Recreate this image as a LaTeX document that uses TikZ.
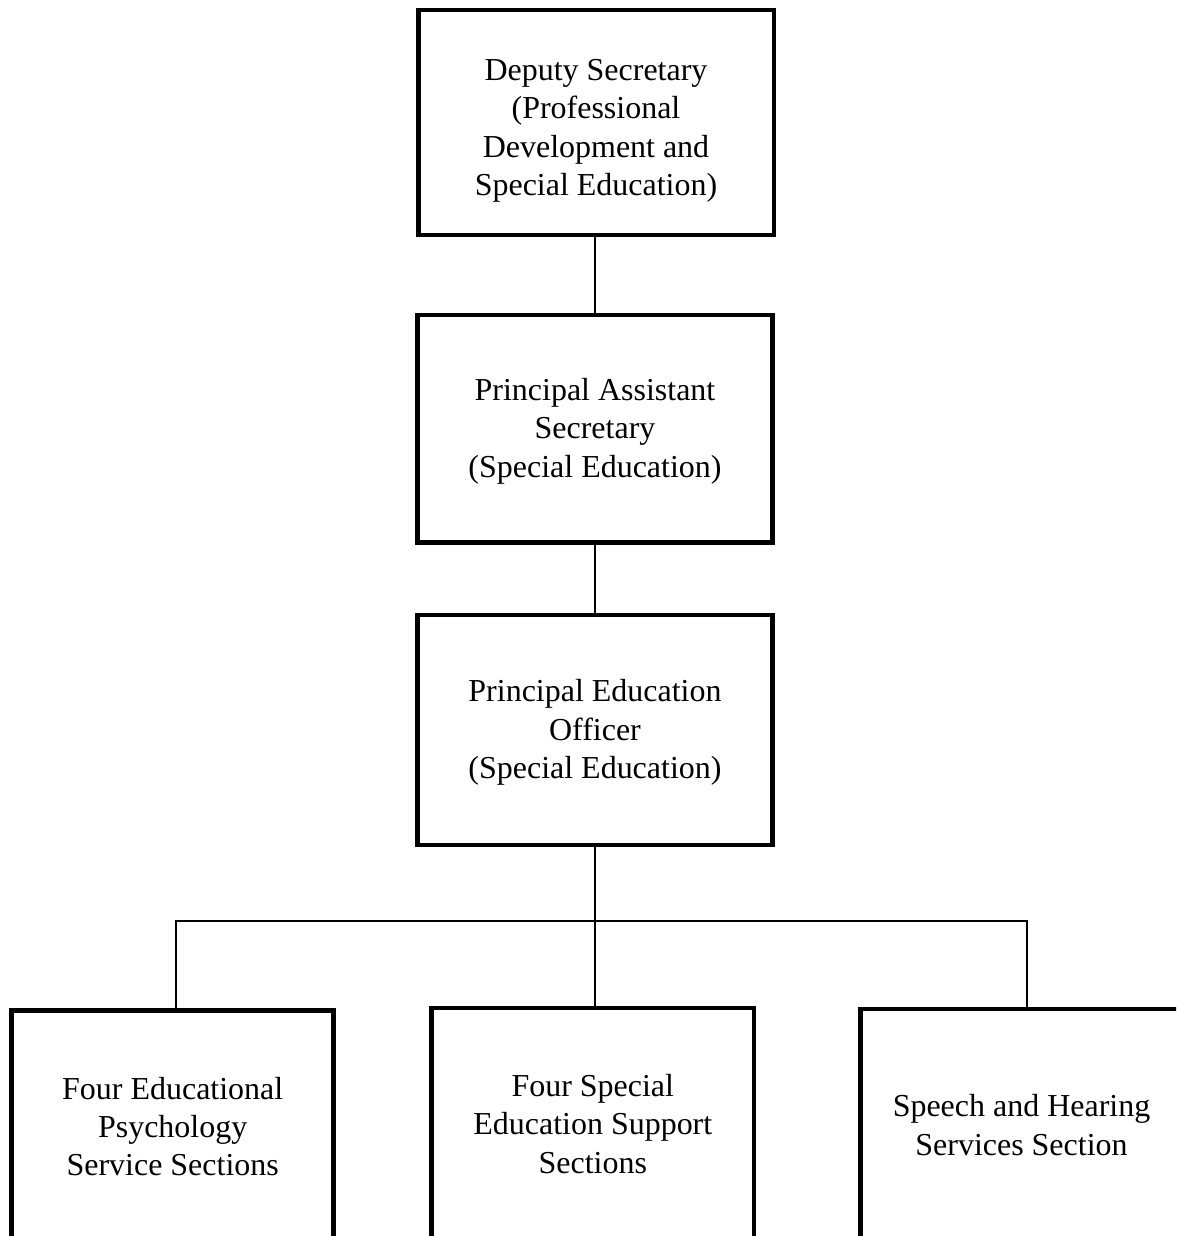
\documentclass[tikz,border=0pt]{standalone}
\usepackage{fontspec}
\setmainfont{Liberation Serif}
\usepackage{tikz}

\begin{document}
\begin{tikzpicture}[x=0.02cm,y=-0.02cm,
  post/.style={draw,line width=2.8pt,align=center,inner sep=0pt,
    font=\fontsize{18.2}{21.8}\selectfont},
  link/.style={line width=1.1pt}]
\useasboundingbox (0,0) rectangle (1176,1236);
\clip (0,0) rectangle (1176,1236);
\node[post,minimum width=7.12cm,minimum height=4.5cm] (ds) at (596,122.5) {\rule{0pt}{21.4pt}Deputy Secretary\\(Professional\\Development and\\Special Education)};
\node[post,minimum width=7.09cm,minimum height=4.55cm] (pas) at (595,428.75) {\rule{0pt}{15.5pt}Principal Assistant\\Secretary\\(Special Education)};
\node[post,minimum width=7.09cm,minimum height=4.6cm] (peo) at (595,730) {\rule{0pt}{15.5pt}Principal Education\\Officer\\(Special Education)};
\node[post,minimum width=6.44cm,minimum height=4.64cm] (eps) at (172.7,1126.5) {Four Educational\\Psychology\\Service Sections};
\node[post,minimum width=6.45cm,minimum height=4.64cm] (sess) at (592.8,1124) {Four Special\\Education Support\\Sections};
\node[post,minimum width=6.44cm,minimum height=4.64cm] (shs) at (1021.5,1125) {Speech and Hearing\\Services Section};
\coordinate (bar) at (593,921);
\draw[link] (pas.north |- ds.south) -- (pas.north);
\draw[line width=1.6pt] (pas.south) -- (peo.north);
\draw[link] (peo.south) -- (peo.south |- sess.north);
\draw[link] ([xshift=3.3*0.02cm]eps.north) -- ([xshift=3.3*0.02cm]eps.north |- bar) -| ([xshift=5.5*0.02cm]shs.north);
\end{tikzpicture}
\end{document}
